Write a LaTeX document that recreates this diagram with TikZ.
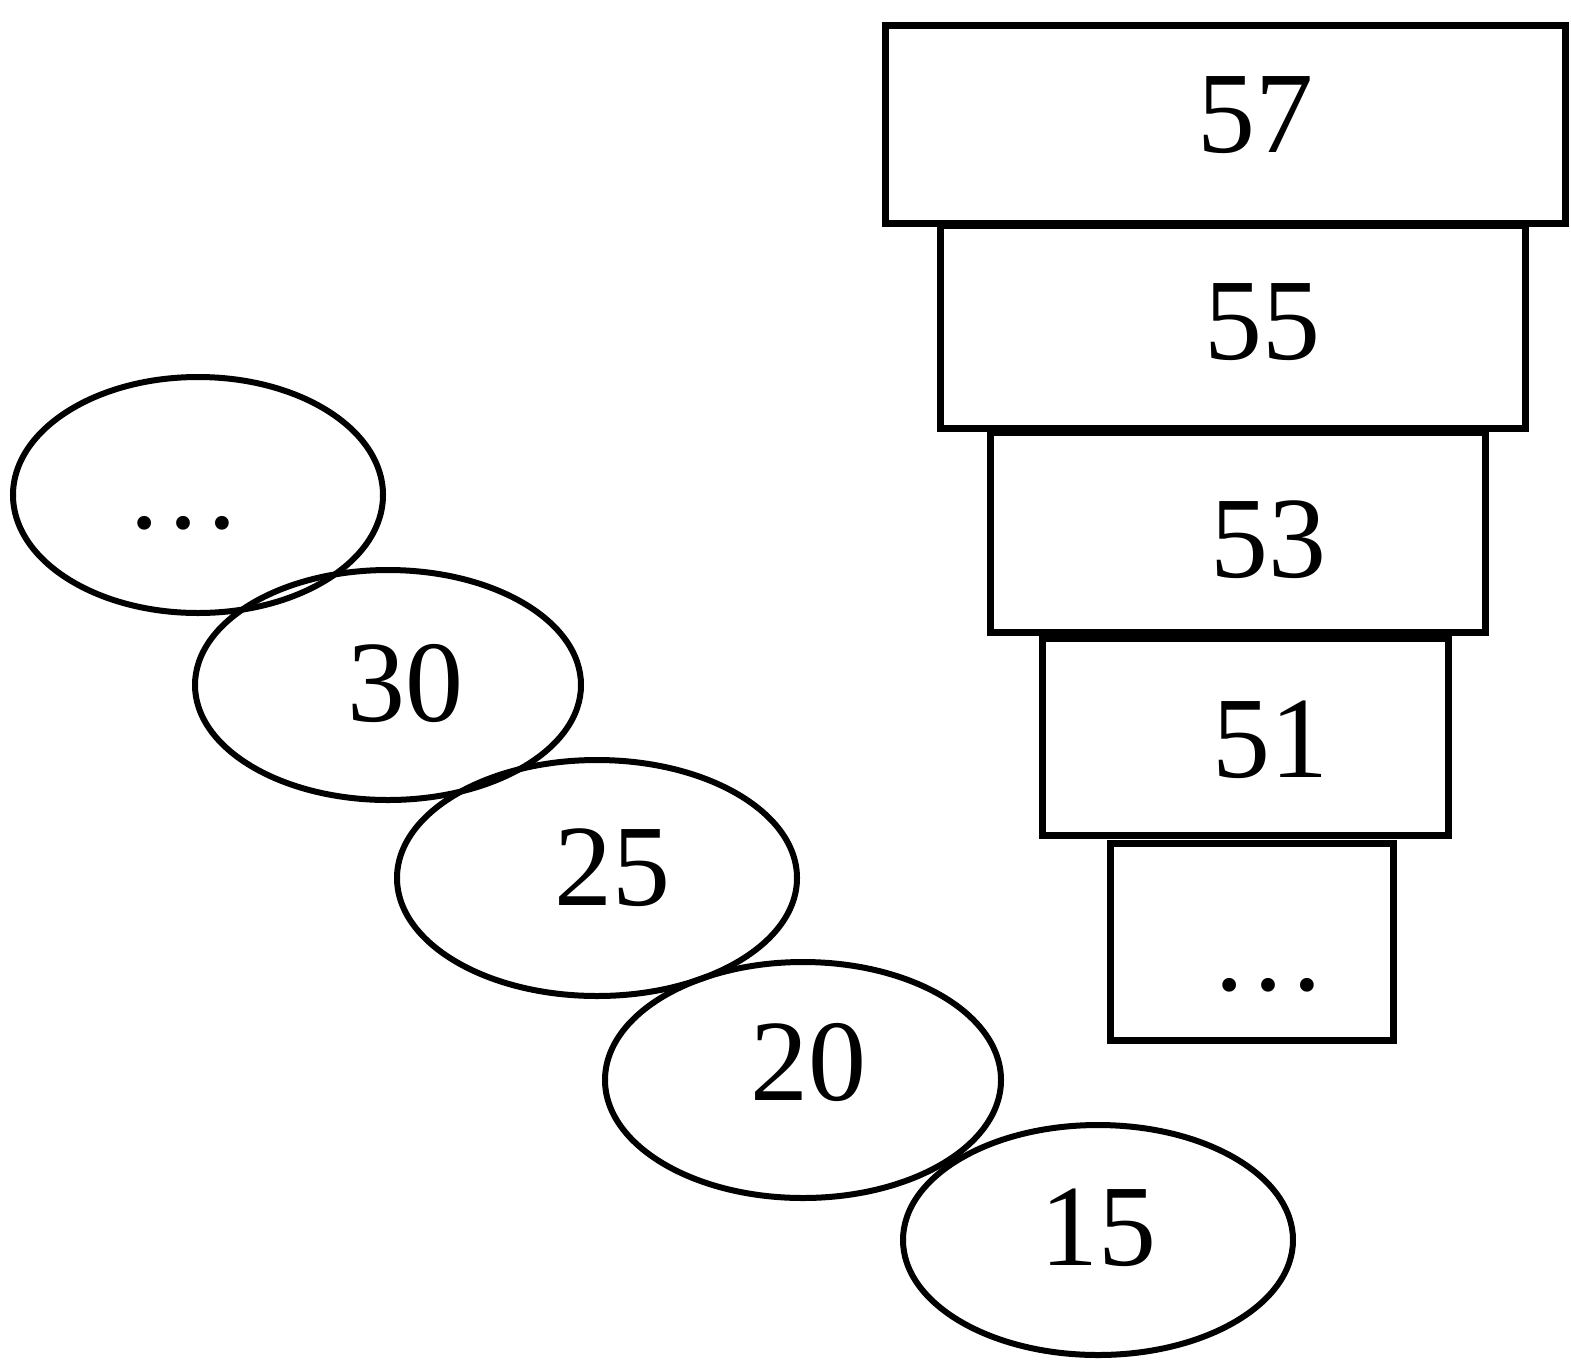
\documentclass[tikz,border=0pt]{standalone}
\usepackage{fontspec}
\setmainfont{Liberation Serif}
\usetikzlibrary{shapes.geometric}
\begin{document}
\begin{tikzpicture}[x=1pt,y=-1pt,
  shp/.style={draw=black,line width=6pt,inner sep=0pt},
  boxnode/.style={shp,rectangle,line width=7pt},
  ovl/.style={shp,ellipse},
  num/.style={inner sep=0pt,font=\fontsize{116}{124}\selectfont}]
\useasboundingbox (0,0) rectangle (1571,1366);
\fill[white] (0,0) rectangle (1571,1366);
% boxes
\node[boxnode,minimum width=680pt,minimum height=198pt] (b57) at (1225,124) {};
\node[boxnode,minimum width=585pt,minimum height=203pt] (b55) at (1232.5,326.5) {};
\node[boxnode,minimum width=495pt,minimum height=200pt] (b53) at (1237.5,532) {};
\node[boxnode,minimum width=406pt,minimum height=197pt] (b51) at (1245,736.5) {};
\node[boxnode,minimum width=283pt,minimum height=197pt] (bdots) at (1251.5,941.5) {};
\node[num] (t57) at (1255,115) {57};
\node[num] (t55) at (1262,322) {55};
\node[num] (t53) at (1268,540) {53};
\node[num] (t51) at (1270,740) {51};
\node[num,anchor=base] (tbd) at (1268,990) {\ldots};
% ellipses
\node[ovl,minimum width=370pt,minimum height=236pt] (edots) at (198,495) {};
\node[ovl,minimum width=386pt,minimum height=230pt] (e30) at (388,685) {};
\node[ovl,minimum width=400pt,minimum height=236pt] (e25) at (597,878) {};
\node[ovl,minimum width=396pt,minimum height=236pt] (e20) at (803,1080) {};
\node[ovl,minimum width=390pt,minimum height=230pt] (e15) at (1098,1240) {};
\node[num,anchor=base] (ted) at (183,528) {\ldots};
\node[num] (t30) at (405,683) {30};
\node[num] (t25) at (612,868) {25};
\node[num] (t20) at (808,1062) {20};
\node[num] (t15) at (1098,1228) {15};
\end{tikzpicture}
\end{document}
